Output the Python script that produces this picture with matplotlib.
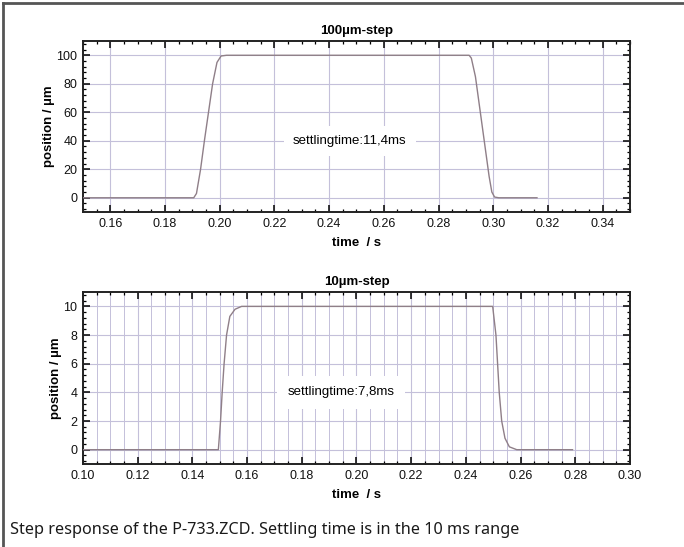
import matplotlib.pyplot as plt
from matplotlib.ticker import MultipleLocator, FormatStrFormatter

# curve points (time in s, position in um)
t_100 = [0.150, 0.1905, 0.1915, 0.1930, 0.1944, 0.1974, 0.1990, 0.2005, 0.2025, 0.2060,
         0.2912, 0.2920, 0.2935, 0.2960, 0.2985, 0.2995, 0.3005, 0.3020, 0.3160]
p_100 = [0, 0, 3, 20, 40, 80, 95, 99.5, 100, 100,
         100, 98, 85, 50, 15, 4, 0.5, 0, 0]

t_10 = [0.100, 0.1495, 0.1503, 0.1509, 0.1516, 0.1525, 0.1537, 0.1556, 0.158,
        0.2498, 0.2510, 0.2516, 0.2522, 0.2531, 0.2543, 0.2559, 0.2586, 0.279]
p_10 = [0, 0, 2, 4, 6, 8, 9.3, 9.8, 10,
        10, 8, 6, 4, 2, 0.8, 0.2, 0, 0]

titles = ['100\u00b5m-step', '10\u00b5m-step']
notes = ['settlingtime:11,4ms', 'settlingtime:7,8ms']
caption = 'Step response of the P-733.ZCD. Settling time is in the 10 ms range'

plt.rcParams['font.family'] = ['Liberation Sans', 'DejaVu Sans']
grid_col = '#c4c0da'
line_col = '#8f7f88'

fig = plt.figure(figsize=(6.84, 5.47), dpi=100)
ax1 = fig.add_axes([0.1213, 0.6124, 0.7997, 0.3126])
ax2 = fig.add_axes([0.1213, 0.1517, 0.7997, 0.3144])

# outer frame (left and top only)
fig.add_artist(plt.Line2D([0.0045, 0.0045], [0, 0.994], color='#555555', lw=2))
fig.add_artist(plt.Line2D([0.0045, 1], [0.994, 0.994], color='#555555', lw=2))

ax1.plot(t_100, p_100, color=line_col, lw=1, zorder=3)
ax1.set_xlim(0.15, 0.35)
ax1.set_ylim(-10, 110)
ax1.xaxis.set_major_locator(MultipleLocator(0.02))
ax1.xaxis.set_minor_locator(MultipleLocator(0.005))
ax1.yaxis.set_major_locator(MultipleLocator(20))
ax1.yaxis.set_minor_locator(MultipleLocator(4))
ax1.set_xticks([0.16, 0.18, 0.20, 0.22, 0.24, 0.26, 0.28, 0.30, 0.32, 0.34])
ax1.grid(True, which='major', color=grid_col, lw=0.8)
ax1.text(0.2475, 40, notes[0], ha='center', va='center', fontsize=9.5,
         bbox=dict(boxstyle='square,pad=0.7', fc='white', ec='none'), zorder=2)

ax2.plot(t_10, p_10, color=line_col, lw=1, zorder=3)
ax2.set_xlim(0.10, 0.30)
ax2.set_ylim(-1, 11)
ax2.xaxis.set_major_locator(MultipleLocator(0.02))
ax2.xaxis.set_minor_locator(MultipleLocator(0.005))
ax2.yaxis.set_major_locator(MultipleLocator(2))
ax2.yaxis.set_minor_locator(MultipleLocator(0.4))
ax2.grid(True, which='major', color=grid_col, lw=0.8)
ax2.grid(True, which='minor', axis='x', color=grid_col, lw=0.7)
ax2.text(0.1945, 4, notes[1], ha='center', va='center', fontsize=9.5,
         bbox=dict(boxstyle='square,pad=0.8', fc='white', ec='none'), zorder=2)

for ax, title in zip([ax1, ax2], titles):
    ax.set_axisbelow(True)
    ax.set_title(title, fontsize=9.5, fontweight='bold', pad=5)
    ax.set_xlabel('time  / s', fontsize=9.5, fontweight='bold', labelpad=5)
    ax.set_ylabel('position / \u00b5m', fontsize=9.5, fontweight='bold', labelpad=1)
    ax.xaxis.set_major_formatter(FormatStrFormatter('%.2f'))
    ax.yaxis.set_major_formatter(FormatStrFormatter('%d'))
    ax.tick_params(which='both', direction='in', top=True, right=True,
                   labelsize=9, color='black', labelcolor='#111111')
    ax.tick_params(which='major', length=5, width=1.1, pad=4)
    ax.tick_params(which='minor', length=2.5, width=0.9)
    for s in ax.spines.values():
        s.set_linewidth(1.4)
        s.set_color('#222222')

fig.text(0.0146, 0.031, caption, fontsize=11.7, family=['Noto Sans', 'DejaVu Sans'],
         color='#1a1a1a', va='center')

fig.savefig('out.png', dpi=100)
